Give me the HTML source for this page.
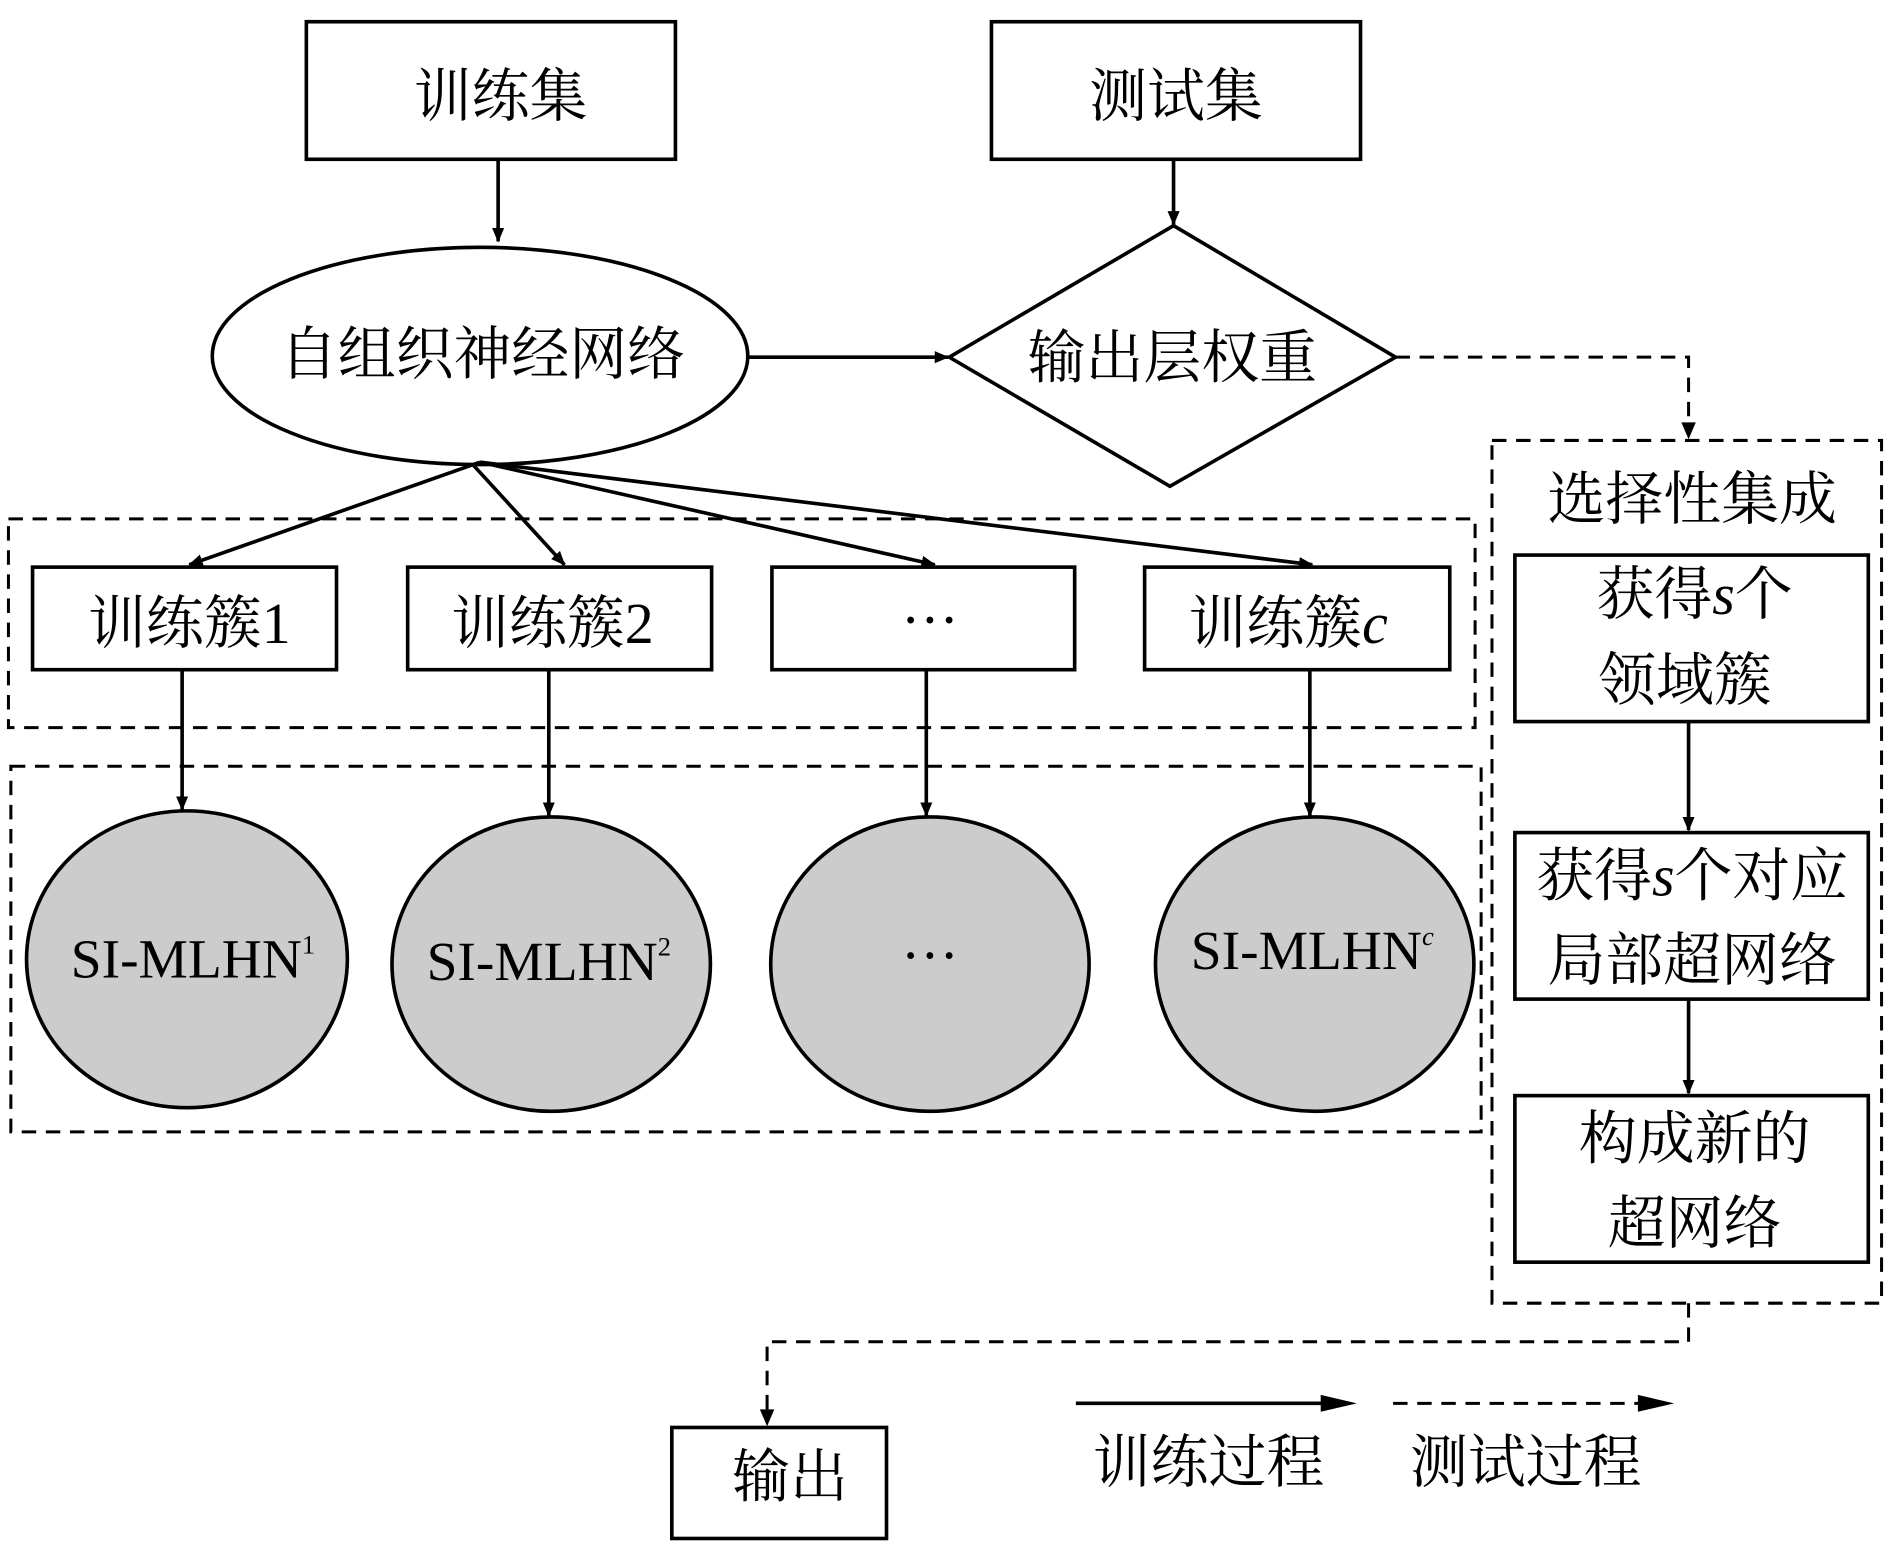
<!DOCTYPE html>
<html><head><meta charset="utf-8"><style>
html,body{margin:0;padding:0;background:#fff}
svg{display:block}
text{font-family:"Liberation Serif","Noto Serif CJK SC",serif;fill:#000}
</style></head><body>
<svg width="1890" height="1559" viewBox="0 0 1567 1292" preserveAspectRatio="none" xmlns="http://www.w3.org/2000/svg">
<defs>
<marker id="a" markerWidth="12" markerHeight="12" refX="11" refY="6" orient="auto" markerUnits="userSpaceOnUse" viewBox="0 0 12 12">
<path d="M0,1 L12,6 L0,11 Z" fill="#000"/></marker>
<marker id="b" markerWidth="30" markerHeight="14" refX="28" refY="7" orient="auto" markerUnits="userSpaceOnUse" viewBox="0 0 30 14">
<path d="M0,1 L30,7 L0,13 Z" fill="#000"/></marker>
</defs>
<g fill="none" stroke="#000" stroke-width="3">
<rect x="254" y="18" width="306" height="114" fill="#fff"/>
<rect x="822" y="18" width="306" height="114" fill="#fff"/>
<ellipse cx="398" cy="295" rx="222" ry="90" fill="#fff"/>
<polygon points="787,296 973,187 1157,296 970,403" fill="#fff"/>
<g stroke-dasharray="12,8" stroke-width="2.5">
<rect x="7" y="430" width="1216" height="173"/>
<rect x="9" y="635" width="1219" height="303"/>
<rect x="1237" y="365" width="323" height="715"/>
<polyline points="1157,296 1400,296 1400,355"/>
<polyline points="1400,1080 1400,1112 636,1112 636,1175"/>
<line x1="1155" y1="1163" x2="1380" y2="1163"/>
</g>
<rect x="27" y="470" width="252" height="85" fill="#fff"/>
<rect x="338" y="470" width="252" height="85" fill="#fff"/>
<rect x="640" y="470" width="251" height="85" fill="#fff"/>
<rect x="949" y="470" width="253" height="85" fill="#fff"/>
<ellipse cx="155" cy="795" rx="133" ry="123" fill="#cccccc"/>
<ellipse cx="457" cy="799" rx="132" ry="122" fill="#cccccc"/>
<ellipse cx="771" cy="799" rx="132" ry="122" fill="#cccccc"/>
<ellipse cx="1090" cy="799" rx="132" ry="122" fill="#cccccc"/>
<rect x="1256" y="460" width="293" height="138" fill="#fff"/>
<rect x="1256" y="690" width="293" height="138" fill="#fff"/>
<rect x="1256" y="908" width="293" height="138" fill="#fff"/>
<rect x="557" y="1183" width="178" height="92" fill="#fff"/>
</g>
<g stroke="#000" stroke-width="3" fill="none" marker-end="url(#a)">
<line x1="413" y1="132" x2="413" y2="200"/>
<line x1="973" y1="132" x2="973" y2="186"/>
<line x1="620" y1="296" x2="786" y2="296"/>
<line x1="398" y1="383" x2="157" y2="468"/>
<line x1="392" y1="385" x2="468" y2="468"/>
<line x1="398" y1="383" x2="775" y2="468"/>
<line x1="398" y1="383" x2="1088" y2="468"/>
<line x1="151" y1="555" x2="151" y2="671"/>
<line x1="455" y1="555" x2="455" y2="676"/>
<line x1="768" y1="555" x2="768" y2="676"/>
<line x1="1086" y1="555" x2="1086" y2="676"/>
<line x1="1400" y1="598" x2="1400" y2="688"/>
<line x1="1400" y1="828" x2="1400" y2="906"/>
</g>
<polygon points="1394,350 1406,350 1400,364" fill="#000"/>
<polygon points="630,1168 642,1168 636,1182" fill="#000"/>
<line x1="892" y1="1163" x2="1100" y2="1163" stroke="#000" stroke-width="3"/>
<polygon points="1095,1156 1125,1163 1095,1170" fill="#000"/>
<polygon points="1358,1156 1388,1163 1358,1170" fill="#000"/>
<g font-size="48" text-anchor="middle">
<text x="415" y="96">训练集</text>
<text x="975" y="96">测试集</text>
<text x="400" y="310">自组织神经网络</text>
<text x="972" y="313">输出层权重</text>
<text x="157" y="533">训练簇1</text>
<text x="458" y="533">训练簇2</text>
<text x="771" y="530">···</text>
<text x="1068" y="533">训练簇<tspan font-style="italic">c</tspan></text>
<text x="160" y="810" font-size="46">SI-MLHN<tspan font-size="22" dy="-20">1</tspan></text>
<text x="455" y="812" font-size="46">SI-MLHN<tspan font-size="22" dy="-20">2</tspan></text>
<text x="771" y="808">···</text>
<text x="1088" y="803" font-size="46">SI-MLHN<tspan font-size="22" dy="-20" font-style="italic">c</tspan></text>
<text x="1403" y="430">选择性集成</text>
<text x="1405" y="509">获得<tspan font-style="italic">s</tspan>个</text>
<text x="1397" y="580">领域簇</text>
<text x="1403" y="742">获得<tspan font-style="italic">s</tspan>个对应</text>
<text x="1403" y="812">局部超网络</text>
<text x="1405" y="960">构成新的</text>
<text x="1405" y="1030">超网络</text>
<text x="655" y="1240">输出</text>
<text x="1002" y="1228">训练过程</text>
<text x="1265" y="1228">测试过程</text>
</g>
</svg>
</body></html>
